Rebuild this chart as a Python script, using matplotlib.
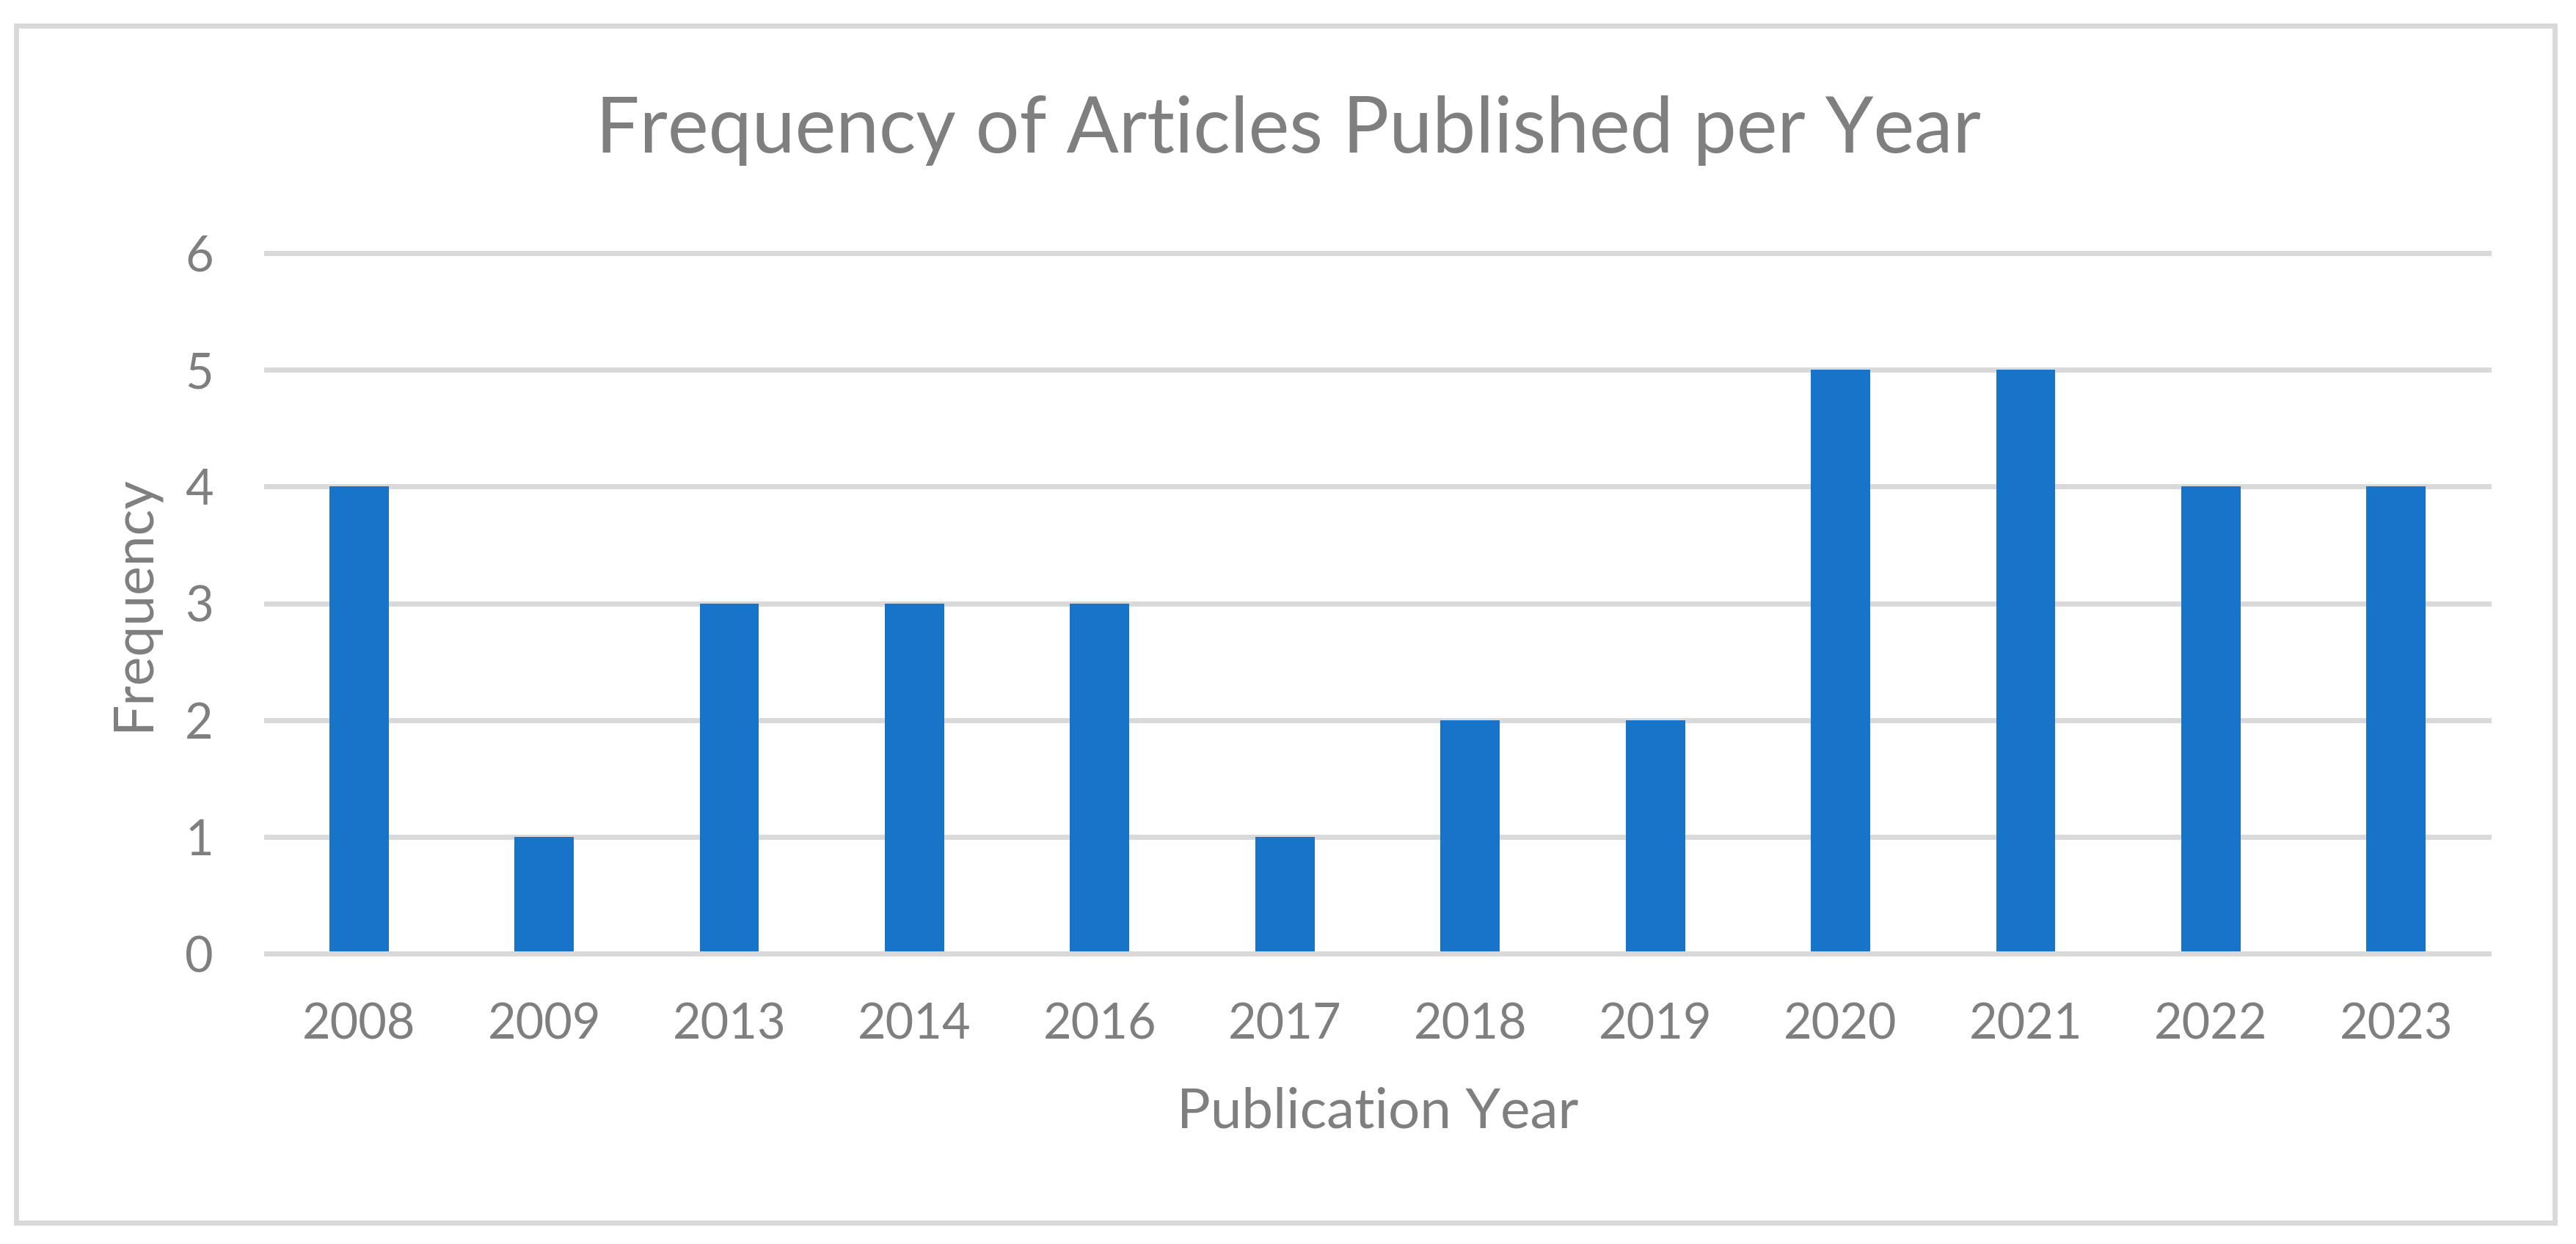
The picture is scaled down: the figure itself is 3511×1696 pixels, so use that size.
import matplotlib
matplotlib.use('Agg')
import matplotlib.pyplot as plt
from matplotlib.patches import Rectangle

years = ['2008', '2009', '2013', '2014', '2016', '2017', '2018', '2019', '2020', '2021', '2022', '2023']
freq = [4, 1, 3, 3, 3, 1, 2, 2, 5, 5, 4, 4]
yticks = [0, 1, 2, 3, 4, 5, 6]

plt.rcParams['font.family'] = ['Lato', 'DejaVu Sans']
grey = '#7F7F7F'
light = '#D9D9D9'

fig = plt.figure(figsize=(35.11, 16.96), dpi=100)
W, H = 3511, 1696

# plot area in pixels
ax = fig.add_axes([363 / W, 1 - 1300 / H, (3392 - 363) / W, (1300 - 345) / H])

x = list(range(len(years)))
ax.bar(x, freq, width=0.32, color='#1874C9', zorder=2)

# gridlines
for v in yticks:
    ax.axhline(v, color=light, lw=5, zorder=3 if v == 0 else 1, clip_on=False)

ax.set_xlim(-0.5, len(years) - 0.5)
ax.set_ylim(0, 6)
ax.set_xticks(x)
ax.set_xticklabels(years)
ax.set_yticks(yticks)
for s in ax.spines.values():
    s.set_visible(False)
ax.tick_params(axis='both', length=0, labelsize=48, colors=grey)
ax.tick_params(axis='x', pad=48)
ax.tick_params(axis='y', pad=52)

ax.set_xlabel('Publication Year', fontsize=55, color=grey, labelpad=38)
ax.set_ylabel('Frequency', fontsize=54, color=grey, labelpad=26)

fig.text(0.5, 1 - 208 / H, 'Frequency of Articles Published per Year',
         ha='center', va='baseline', fontsize=76, color=grey)

# chart border
fig.patches.append(Rectangle((22 / W, 1 - 1667 / H), (3482 - 22) / W, (1667 - 35) / H,
                             transform=fig.transFigure, fill=False,
                             edgecolor=light, lw=5))

fig.savefig('out.png', dpi=100, facecolor='white')
